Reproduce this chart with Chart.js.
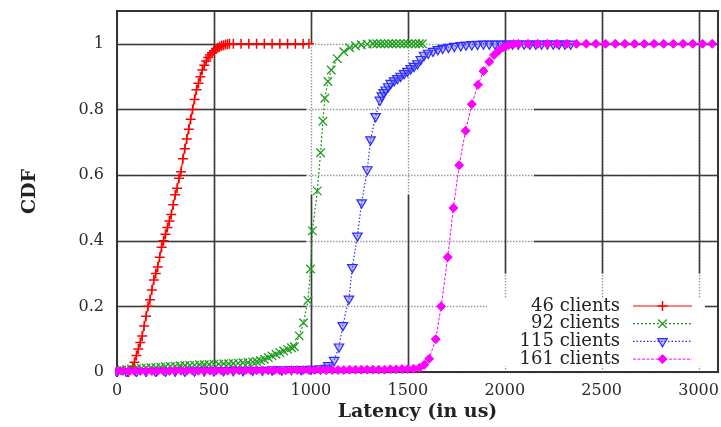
<!DOCTYPE html>
<html>
<head>
<meta charset="utf-8">
<title>Latency CDF</title>
<script src="https://cdn.jsdelivr.net/npm/chart.js@4.4.1/dist/chart.umd.min.js"></script>
<style>
  html, body { margin: 0; padding: 0; background: #fff; }
  canvas { display: block; }
</style>
</head>
<body>
<canvas id="cdfChart" width="721" height="427"></canvas>
<script>
/* ================= DATA ================= */
const seriesLabels = ['46 clients', '92 clients', '115 clients', '161 clients'];

const xTicks = [0, 500, 1000, 1500, 2000, 2500, 3000];
const yTicks = [0, 0.2, 0.4, 0.6, 0.8, 1];

// 46 clients
const lat46 = [60, 70, 80, 90, 100, 110, 120, 130, 140, 150, 160, 170, 180, 190, 200, 210, 220, 230, 240, 250,
    260, 270, 280, 290, 300, 310, 320, 330, 340, 350, 360, 370, 380, 390, 400, 410, 420, 430, 440, 450,
    460, 470, 480, 490, 500, 510, 520, 530, 540, 550, 560, 570, 580,
    600, 640, 680, 720, 760, 800, 840, 880, 920, 960, 990];
const cdf46 = [0, 0.005, 0.015, 0.03, 0.05, 0.07, 0.09, 0.11, 0.14, 0.17, 0.2, 0.22, 0.25, 0.28, 0.3, 0.32, 0.35, 0.38, 0.4, 0.42,
    0.44, 0.46, 0.48, 0.51, 0.54, 0.56, 0.59, 0.61, 0.65, 0.68, 0.71, 0.74, 0.77, 0.8, 0.83, 0.86, 0.88, 0.9, 0.92, 0.935,
    0.948, 0.958, 0.966, 0.973, 0.979, 0.984, 0.988, 0.991, 0.994, 0.996, 0.998, 0.999, 1,
    1, 1, 1, 1, 1, 1, 1, 1, 1, 1, 1];

// 92 clients
const lat92 = [0, 25, 50, 75, 100, 125, 150, 175, 200, 225, 250, 275, 300, 325, 350, 375, 400, 425, 450, 475,
    500, 525, 550, 575, 600, 625, 650, 675, 700,
    720, 740, 760, 780, 800, 820, 840, 860, 880, 900,
    915, 940, 962, 985, 998, 1008, 1033, 1050, 1062, 1072, 1088, 1105, 1136, 1170,
    1200, 1230, 1260, 1290,
    1320, 1340, 1360, 1380, 1400, 1420, 1440, 1460, 1480, 1500, 1520, 1540, 1560, 1575];
const cdf92 = [0.004, 0.006, 0.008, 0.009, 0.01, 0.011, 0.012, 0.013, 0.014, 0.015, 0.016, 0.017, 0.018, 0.019, 0.02, 0.02, 0.021, 0.022, 0.022, 0.023,
    0.024, 0.024, 0.025, 0.025, 0.026, 0.027, 0.028, 0.029, 0.03,
    0.032, 0.035, 0.039, 0.044, 0.049, 0.054, 0.059, 0.064, 0.069, 0.074,
    0.077, 0.11, 0.15, 0.218, 0.314, 0.43, 0.552, 0.668, 0.764, 0.834, 0.885, 0.92, 0.955, 0.976,
    0.988, 0.994, 0.997, 0.999,
    1, 1, 1, 1, 1, 1, 1, 1, 1, 1, 1, 1, 1, 1];

// 115 clients
const lat115 = [0, 50, 100, 150, 200, 250, 300, 350, 400, 450, 500, 550, 600, 650, 700, 750, 800, 850, 900, 950,
    1000, 1050, 1075, 1090, 1120, 1145, 1165, 1196, 1214, 1240, 1262, 1291, 1308, 1334, 1356,
    1366, 1376, 1386, 1399, 1412, 1429, 1446, 1463, 1481, 1498, 1515, 1532, 1550, 1567, 1584,
    1605, 1630, 1655, 1680, 1710, 1740, 1773, 1800, 1830, 1860,
    1890, 1920, 1950, 1980, 2010, 2040, 2070, 2100, 2130, 2160, 2190, 2220, 2250, 2280, 2310, 2340];
const cdf115 = [0.001, 0.001, 0.002, 0.002, 0.002, 0.003, 0.003, 0.003, 0.004, 0.004, 0.004, 0.005, 0.005, 0.005, 0.006, 0.006, 0.007, 0.007, 0.008, 0.008,
    0.009, 0.01, 0.012, 0.02, 0.036, 0.077, 0.142, 0.223, 0.319, 0.415, 0.516, 0.617, 0.708, 0.779, 0.829,
    0.842, 0.852, 0.86, 0.87, 0.88, 0.888, 0.895, 0.902, 0.91, 0.917, 0.925, 0.932, 0.94, 0.953, 0.966,
    0.972, 0.978, 0.983, 0.987, 0.99, 0.993, 0.995, 0.997, 0.998, 0.999,
    1, 1, 1, 1, 1, 1, 1, 1, 1, 1, 1, 1, 1, 1, 1, 1];

// 161 clients
const lat161 = [0, 30, 60, 90, 120, 150, 180, 210, 240, 270, 300, 330, 360, 390, 420, 450, 480, 510, 540, 570,
    600, 630, 660, 690, 720, 750, 780, 810, 840, 870, 900, 930, 960, 990, 1020, 1050, 1080, 1110, 1140, 1170,
    1200, 1230, 1260, 1290, 1320, 1350, 1380, 1410, 1440, 1470, 1500, 1530,
    1560, 1585, 1610, 1644, 1672, 1706, 1735, 1765, 1798, 1830, 1862, 1890, 1920, 1945, 1970, 1995, 2020, 2045, 2070,
    2120, 2170, 2220, 2270, 2320, 2370, 2420, 2470, 2520, 2570, 2620, 2670, 2720, 2770, 2820, 2870, 2920, 2970, 3020, 3070];
const cdf161 = [0.003, 0.003, 0.003, 0.003, 0.003, 0.003, 0.003, 0.003, 0.003, 0.003, 0.004, 0.004, 0.004, 0.004, 0.004, 0.004, 0.004, 0.004, 0.004, 0.004,
    0.005, 0.005, 0.005, 0.005, 0.005, 0.005, 0.005, 0.005, 0.005, 0.005, 0.006, 0.006, 0.006, 0.006, 0.006, 0.006, 0.006, 0.006, 0.006, 0.006,
    0.007, 0.007, 0.007, 0.007, 0.007, 0.007, 0.007, 0.008, 0.008, 0.009, 0.009, 0.01,
    0.013, 0.022, 0.04, 0.1, 0.2, 0.35, 0.5, 0.63, 0.735, 0.816, 0.875, 0.917, 0.945, 0.966, 0.98, 0.99, 0.996, 0.999, 1,
    1, 1, 1, 1, 1, 1, 1, 1, 1, 1, 1, 1, 1, 1, 1, 1, 1, 1, 1, 1];

const toPoints = (xs, ys) => xs.map((x, i) => ({ x: x, y: ys[i] }));

/* ================= GRID + FRAME ================= */
// dotted grid everywhere, with solid runs laid over it (data units)
const gridPlugin = {
    id: 'gnuGrid',
    beforeDatasetsDraw(chart) {
        const { ctx, chartArea: a, scales: { x, y } } = chart;
        const solidV = [[500, 0, 1.1], [1000, 0, 0.54], [1000, 1.0, 1.1], [1500, 0, 0.54], [1500, 1.0, 1.1],
            [2000, 0.3, 1.1], [2500, 0.3, 1.1], [3000, 0.3, 1.1]];
        const solidH = [0.2, 0.4, 0.6, 0.8, 1].flatMap(v => [[v, 0, 975], [v, 2150, 3100]]);

        ctx.save();
        ctx.lineWidth = 1.4;
        ctx.strokeStyle = '#9a9a9a';
        ctx.setLineDash([1.5, 1.5]);
        ctx.beginPath();
        xTicks.forEach(v => {
            const px = Math.round(x.getPixelForValue(v)) + 0.5;
            ctx.moveTo(px, a.top);
            ctx.lineTo(px, a.bottom);
        });
        yTicks.forEach(v => {
            const py = Math.round(y.getPixelForValue(v)) + 0.5;
            ctx.moveTo(a.left, py);
            ctx.lineTo(a.right, py);
        });
        ctx.stroke();

        ctx.setLineDash([]);
        ctx.strokeStyle = '#3a3a3a';
        ctx.lineWidth = 1.6;
        ctx.beginPath();
        solidV.forEach(([v, y0, y1]) => {
            const px = Math.round(x.getPixelForValue(v)) + 0.5;
            ctx.moveTo(px, y.getPixelForValue(y0));
            ctx.lineTo(px, y.getPixelForValue(y1));
        });
        solidH.forEach(([v, x0, x1]) => {
            const py = Math.round(y.getPixelForValue(v)) + 0.5;
            ctx.moveTo(x.getPixelForValue(x0), py);
            ctx.lineTo(x.getPixelForValue(x1), py);
        });
        ctx.stroke();

        ctx.lineWidth = 2;
        ctx.strokeStyle = '#333';
        ctx.strokeRect(a.left, a.top, a.width, a.height);
        ctx.restore();
    }
};

/* ================= KEY (bottom right, inside plot) ================= */
const keyPlugin = {
    id: 'gnuKey',
    afterDatasetsDraw(chart) {
        const { ctx, chartArea: a } = chart;
        ctx.save();
        ctx.fillStyle = '#fff';
        ctx.fillRect(a.right - 231, a.bottom - 74, 218, 68);

        ctx.font = "18px 'DejaVu Serif'";
        ctx.textAlign = 'right';
        ctx.textBaseline = 'middle';
        chart.data.datasets.forEach((ds, i) => {
            const cy = a.bottom - 66 + i * 17.7;
            ctx.fillStyle = '#222';
            ctx.fillText(ds.label, a.right - 98, cy);

            ctx.strokeStyle = ds.borderColor;
            ctx.lineWidth = ds.borderWidth;
            ctx.setLineDash(ds.borderDash || []);
            ctx.beginPath();
            ctx.moveTo(a.right - 85, cy);
            ctx.lineTo(a.right - 26, cy);
            ctx.stroke();

            ctx.setLineDash([]);
            ctx.fillStyle = ds.pointBackgroundColor;
            ctx.strokeStyle = ds.borderColor;
            ctx.lineWidth = ds.pointBorderWidth;
            Chart.helpers.drawPoint(ctx, {
                pointStyle: ds.pointStyle,
                rotation: ds.pointRotation || 0,
                radius: ds.pointRadius,
                borderWidth: ds.pointBorderWidth
            }, a.right - 55.5, cy);
        });
        ctx.restore();
    }
};

/* ================= CHART ================= */
Chart.defaults.font.family = "'DejaVu Serif', serif";
Chart.defaults.color = '#333';

const tickFont = { family: "'DejaVu Serif', serif", size: 16 };
const titleFont = { family: "'DejaVu Serif', serif", size: 19, weight: 'bold' };
// let markers sitting on the bottom edge spill a little past the frame
const markerClip = { left: 2, right: 2, top: 2, bottom: 5 };

new Chart(document.getElementById('cdfChart'), {
    type: 'scatter',
    data: {
        datasets: [
            {
                label: seriesLabels[0],
                data: toPoints(lat46, cdf46),
                showLine: true,
                borderColor: '#ff0000',
                borderWidth: 1.2,
                pointStyle: 'cross',
                pointRadius: 5,
                pointBorderWidth: 1.5,
                pointBackgroundColor: '#ff0000',
                clip: markerClip,
                order: 3
            },
            {
                label: seriesLabels[1],
                data: toPoints(lat92, cdf92),
                showLine: true,
                borderColor: '#1e9b1e',
                borderWidth: 1.2,
                borderDash: [2, 2],
                pointStyle: 'crossRot',
                pointRadius: 6,
                pointBorderWidth: 1.3,
                pointBackgroundColor: '#1e9b1e',
                clip: markerClip,
                order: 2
            },
            {
                label: seriesLabels[2],
                data: toPoints(lat115, cdf115),
                showLine: true,
                borderColor: '#2a2aff',
                borderWidth: 1.2,
                borderDash: [1.5, 2],
                pointStyle: 'triangle',
                pointRotation: 180,
                pointRadius: 5.5,
                pointBorderWidth: 1.2,
                pointBackgroundColor: 'rgba(90, 90, 255, 0.4)',
                clip: markerClip,
                order: 1
            },
            {
                label: seriesLabels[3],
                data: toPoints(lat161, cdf161),
                showLine: true,
                borderColor: '#ff00ff',
                borderWidth: 1,
                borderDash: [3, 1.5],
                pointStyle: 'rectRot',
                pointRadius: 4.5,
                pointBorderWidth: 1,
                pointBackgroundColor: '#ff00ff',
                clip: markerClip,
                order: 0
            }
        ]
    },
    options: {
        responsive: false,
        devicePixelRatio: 1,
        animation: false,
        layout: { autoPadding: false, padding: { top: 11, right: 3, left: 0, bottom: 0 } },
        plugins: {
            legend: { display: false },
            tooltip: { enabled: false }
        },
        scales: {
            x: {
                type: 'linear',
                min: 0,
                max: 3100,
                afterBuildTicks: scale => { scale.ticks = xTicks.map(v => ({ value: v })); },
                afterFit: scale => {
                    scale.height = 55;
                    scale.paddingLeft = 0;
                    scale.paddingRight = 0;
                },
                grid: { display: false, drawTicks: false },
                border: { display: false },
                ticks: {
                    font: tickFont,
                    color: '#2a2a2a',
                    padding: 9,
                    maxRotation: 0,
                    callback: v => String(v)
                },
                title: {
                    display: true,
                    text: 'Latency (in us)',
                    font: titleFont,
                    color: '#222',
                    padding: { top: 0, bottom: 4 }
                }
            },
            y: {
                type: 'linear',
                min: 0,
                max: 1.1,
                afterBuildTicks: scale => { scale.ticks = yTicks.map(v => ({ value: v })); },
                afterFit: scale => {
                    scale.width = 117;
                    scale.paddingTop = 0;
                    scale.paddingBottom = 0;
                },
                grid: { display: false, drawTicks: false },
                border: { display: false },
                ticks: {
                    font: tickFont,
                    color: '#2a2a2a',
                    padding: 13,
                    callback: v => String(v)
                },
                title: {
                    display: true,
                    text: 'CDF',
                    font: titleFont,
                    color: '#222',
                    padding: { top: 19, bottom: 0 }
                }
            }
        }
    },
    plugins: [gridPlugin, keyPlugin]
});
</script>
</body>
</html>
